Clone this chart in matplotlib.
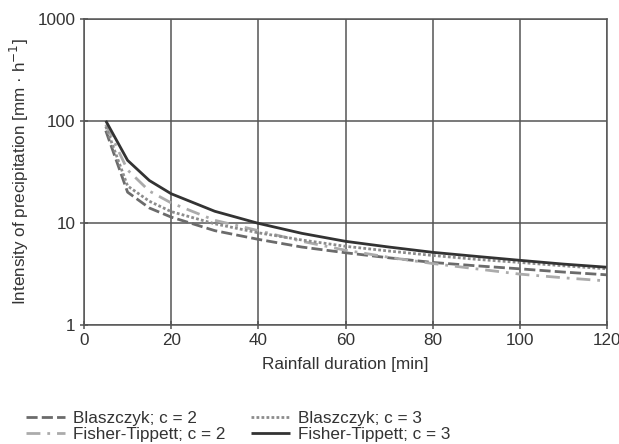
import matplotlib
matplotlib.use("Agg")
import matplotlib.pyplot as plt
from matplotlib.ticker import FixedLocator, NullLocator

plt.rcParams['font.family'] = ['Liberation Sans', 'DejaVu Sans']

duration = [5, 10, 15, 20, 30, 40, 50, 60, 70, 80, 90, 100, 110, 120]
blaszczyk_c2 = [80, 20, 14, 11.4, 8.4, 6.9, 5.8, 5.1, 4.55, 4.1, 3.8, 3.55, 3.3, 3.1]
blaszczyk_c3 = [88, 23, 16.3, 12.9, 9.8, 8.0, 6.8, 5.9, 5.3, 4.8, 4.4, 4.1, 3.8, 3.55]
fisher_c2 = [92, 33, 20.5, 15.7, 10.6, 8.4, 6.6, 5.4, 4.6, 4.0, 3.55, 3.15, 2.9, 2.7]
fisher_c3 = [100, 41, 26, 19.3, 13.0, 9.9, 7.9, 6.6, 5.8, 5.15, 4.7, 4.3, 3.95, 3.68]

xticks = [0, 20, 40, 60, 80, 100, 120]
yticks = [1, 10, 100, 1000]
ytick_labels = ["1", "10", "100", "1000"]

fs = 12.3
fig = plt.figure(figsize=(6.19, 4.44), dpi=100)
ax = fig.add_axes([84/619, 1-325/444, (607-84)/619, (325-18.7)/444])

lw = 2.0
ax.plot(duration, blaszczyk_c2, color='#6b6b6b', lw=lw, dashes=(4, 1.5),
        label='Blaszczyk; c = 2')
ax.plot(duration, fisher_c2, color='#ababab', lw=lw, dashes=(5, 2.5, 1, 2.5),
        label='Fisher-Tippett; c = 2')
ax.plot(duration, blaszczyk_c3, color='#8c8c8c', lw=lw, dashes=(1, 0.8),
        label='Blaszczyk; c = 3')
ax.plot(duration, fisher_c3, color='#333333', lw=lw, solid_capstyle='butt',
        label='Fisher-Tippett; c = 3')

ax.set_yscale('log')
ax.set_xlim(0, 120)
ax.set_ylim(1, 1000)
ax.xaxis.set_major_locator(FixedLocator(xticks))
ax.yaxis.set_major_locator(FixedLocator(yticks))
ax.yaxis.set_minor_locator(NullLocator())
ax.set_yticklabels(ytick_labels)
ax.grid(True, color='#555555', lw=1.1)
ax.set_axisbelow(True)
for s in ax.spines.values():
    s.set_color('#555555')
    s.set_linewidth(1.1)
ax.tick_params(axis='both', direction='inout', length=6, width=1.1, color='#555555',
               labelsize=fs, labelcolor='#333333', pad=3)

ax.set_xlabel('Rainfall duration [min]', fontsize=fs, color='#333333', labelpad=6)
ax.set_ylabel('Intensity of precipitation [mm · h$^{-1}$]', fontsize=fs,
              color='#333333', labelpad=5)

handles, labels = ax.get_legend_handles_labels()
leg = fig.legend(handles, labels,
                 ncol=2, loc='upper left', bbox_to_anchor=(26/619, 1-411/444),
                 frameon=False, fontsize=fs, handlelength=2.3, handletextpad=0.45,
                 columnspacing=1.5, labelspacing=0.05, labelcolor='#333333',
                 borderaxespad=0, borderpad=0)

fig.savefig('out.png', dpi=100)
